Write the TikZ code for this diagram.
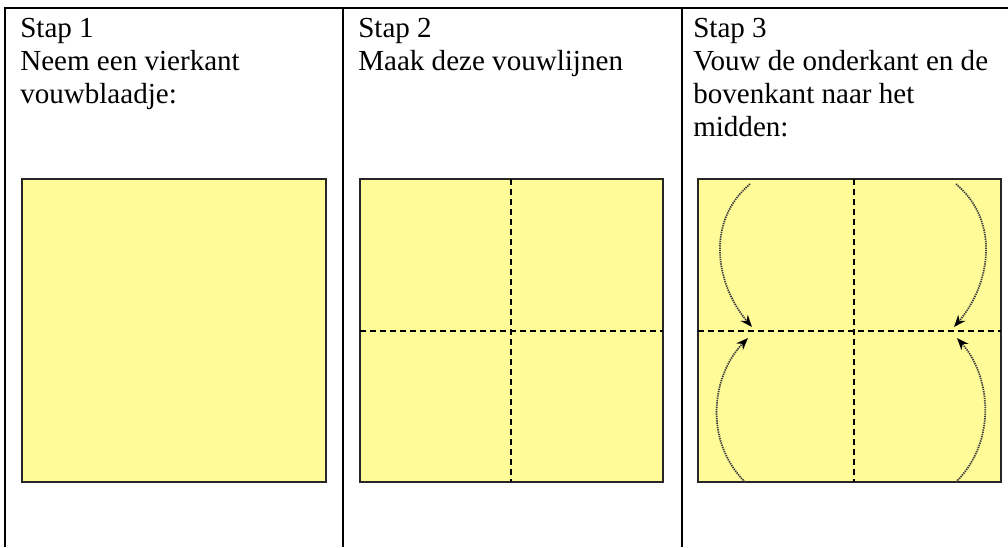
\documentclass[tikz,border=0pt]{standalone}
\usepackage{fontspec}
\setmainfont{Liberation Serif}
\usetikzlibrary{arrows.meta}
\definecolor{paperyellow}{RGB}{255, 251, 153}
\definecolor{foldgray}{RGB}{60, 60, 60}

\begin{document}
\begin{tikzpicture}[x=0.75pt, y=-0.75pt,
  cell/.style={line width=1.5pt, black},
  steptext/.style={anchor=base west, align=left, inner sep=0pt, font=\fontsize{21.8}{24.75}\selectfont},
  paper/.style={draw=black!85, line width=1.2pt, fill=paperyellow},
  foldline/.style={dash pattern=on 4.5pt off 3pt, line width=1pt},
  foldarrow/.style={foldgray, dash pattern=on 1pt off 0.7pt, line width=1.3pt, -{Stealth[length=9pt, width=7pt, black]}}]
  \useasboundingbox (0,0) rectangle (1008,547);

  % Table lines
  \draw[cell] (5,547) -- (5,8) -- (1008,8);
  \draw[cell] (343,8) -- (343,547);
  \draw[cell] (682,8) -- (682,547);

  % Step texts (placed at the baseline of their last line)
  \node[steptext] (stap1) at (20,103) {Stap 1\\Neem een vierkant\\vouwblaadje:};
  \node[steptext] (stap2) at (358,70) {Stap 2\\Maak deze vouwlijnen};
  \node[steptext] (stap3) at (693,136) {Stap 3\\Vouw de onderkant en de\\bovenkant naar het\\midden:};

  % Step 1: plain square
  \draw[paper] (22,179) rectangle (326,482);

  % Step 2: square with fold lines
  \draw[paper] (360,179) rectangle (663,482);
  \draw[foldline] (511,179) -- (511,482);
  \draw[foldline] (360,331) -- (663,331);

  % Step 3: fold lines and arrows
  \draw[paper] (698,179) rectangle (1001,482);
  \draw[foldline] (854,179) -- (854,482);
  \draw[foldline] (698,331) -- (1001,331);
  \draw[foldarrow] (750,184) .. controls (705,222) and (716,285) .. (752,327);
  \draw[foldarrow] (956,184) .. controls (1001,222) and (990,285) .. (954,327);
  \draw[foldarrow] (745,482) .. controls (703,440) and (712,375) .. (748,338);
  \draw[foldarrow] (956,482) .. controls (998,440) and (990,375) .. (957,338);
\end{tikzpicture}
\end{document}
